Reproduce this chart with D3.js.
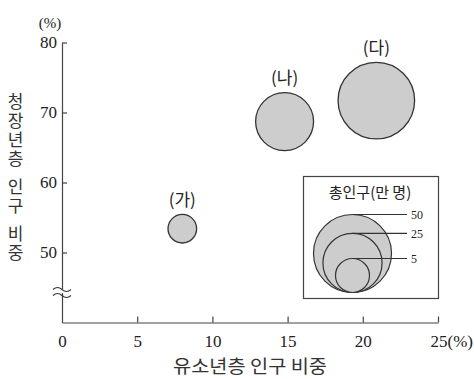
<!DOCTYPE html>
<html><head><meta charset="utf-8">
<script src="https://cdn.jsdelivr.net/npm/d3@7"></script>
<style>
html,body{margin:0;padding:0;background:#fff;}
svg{display:block;}
</style></head>
<body><div id="chart"></div>
<script>
// ---- data ----
const regions = ["(가)", "(나)", "(다)"];
const youthShare = [8.0, 14.8, 20.9];        // 유소년층 인구 비중 (%)
const workingShare = [53.4, 68.7, 71.7];     // 청장년층 인구 비중 (%)
const totalPop = [2.7, 23.7, 47.8];          // 총인구 (만 명)
const xTicks = [0, 5, 10, 15, 20, 25];
const yTicks = [50, 60, 70, 80];
const legendValues = [50, 25, 5];

const W = 474, H = 379;
const svg = d3.select("#chart").append("svg").attr("width", W).attr("height", H);

const x = d3.scaleLinear().domain([0, 25]).range([62, 438]);
const y = d3.scaleLinear().domain([40, 80]).range([322.5, 42.5]);
const r = d3.scalePow().exponent(0.5).domain([5, 50]).range([17, 39]);

const axisColor = "#444";
const serif = "'Liberation Serif','Times New Roman',serif";
const sans = "'Noto Sans CJK KR','Noto Sans',sans-serif";

// x axis
const xAxis = svg.append("g").attr("transform", `translate(0,${y(40)})`)
  .call(d3.axisBottom(x).tickValues(xTicks).tickSizeInner(-6).tickSizeOuter(0).tickPadding(12)
    .tickFormat(d => d === 25 ? "25(%)" : d));
xAxis.select(".domain").attr("stroke", axisColor).attr("stroke-width", 1.2);
xAxis.selectAll(".tick line").attr("stroke", axisColor).attr("stroke-width", 1.2);
xAxis.selectAll(".tick text").attr("font-family", serif).attr("font-size", 17).attr("fill", "#222")
  .attr("dy", "0.71em");
xAxis.selectAll(".tick").filter(d => d === 0).select("line").remove();
xAxis.selectAll(".tick").filter(d => d === 25).select("text").attr("text-anchor", "start").attr("dx", -8);

// y axis
const yAxis = svg.append("g").attr("transform", `translate(${x(0)},0)`)
  .call(d3.axisLeft(y).tickValues(yTicks).tickSizeInner(-5).tickSizeOuter(0).tickPadding(5));
yAxis.select(".domain").attr("stroke", axisColor).attr("stroke-width", 1.2);
yAxis.selectAll(".tick line").attr("stroke", axisColor).attr("stroke-width", 1.2);
yAxis.selectAll(".tick text").attr("font-family", serif).attr("font-size", 17).attr("fill", "#222");

// axis break symbol
const by = y(44.5), bx = x(0);
const wave = (yy) => `M${bx-9},${yy+1.5} q4.5,-4 9,0 t9,0`;
svg.append("rect").attr("x", bx - 2).attr("y", by - 2).attr("width", 4).attr("height", 4).attr("fill", "#fff");
svg.append("path").attr("d", wave(by - 3)).attr("fill", "none").attr("stroke", "#333").attr("stroke-width", 1.1);
svg.append("path").attr("d", wave(by + 3)).attr("fill", "none").attr("stroke", "#333").attr("stroke-width", 1.1);

// units
svg.append("text").attr("x", 50).attr("y", 28).attr("text-anchor", "middle")
  .attr("font-family", serif).attr("font-size", 15).attr("fill", "#222").text("(%)");

// axis titles
svg.append("text").attr("x", 250).attr("y", 373).attr("text-anchor", "middle")
  .attr("font-family", sans).attr("font-size", 18).attr("fill", "#333")
  .attr("textLength", 154).attr("lengthAdjust", "spacingAndGlyphs")
  .text("유소년층 인구 비중");

// vertical y title (upright stacked characters)
svg.append("text").attr("x", 15.5).attr("y", 93)
  .attr("font-family", sans).attr("font-size", 17).attr("fill", "#333")
  .style("writing-mode", "vertical-rl").style("text-orientation", "upright")
  .style("letter-spacing", "2px").style("word-spacing", "-10px")
  .text("청장년층 인구 비중");

// bubbles
const data = regions.map((name, i) => ({ name, x: youthShare[i], y: workingShare[i], p: totalPop[i] }));
const g = svg.append("g");
g.selectAll("circle").data(data).join("circle")
  .attr("cx", d => x(d.x)).attr("cy", d => y(d.y)).attr("r", d => r(d.p))
  .attr("fill", "#cdcdcd").attr("stroke", "#333").attr("stroke-width", 1.3);
g.selectAll("text").data(data).join("text")
  .attr("x", d => x(d.x)).attr("y", d => y(d.y) - r(d.p) - 14.5).attr("dy", "0.35em")
  .attr("text-anchor", "middle").attr("font-family", sans).attr("font-size", 17).attr("fill", "#222")
  .text(d => d.name);

// legend
const lg = svg.append("g");
lg.append("rect").attr("x", 303.5).attr("y", 176.5).attr("width", 135).attr("height", 122)
  .attr("fill", "#fff").attr("stroke", "#444").attr("stroke-width", 1.2);
lg.append("text").attr("x", 370).attr("y", 193).attr("dy", "0.35em").attr("text-anchor", "middle")
  .attr("font-family", sans).attr("font-size", 15).attr("fill", "#222").text("총인구(만 명)");
const lcx = 352.5, lbottom = 292.5;
lg.selectAll("circle").data(legendValues).join("circle")
  .attr("cx", lcx).attr("cy", d => lbottom - r(d)).attr("r", d => r(d))
  .attr("fill", "#cdcdcd").attr("stroke", "#333").attr("stroke-width", 1.2);
lg.selectAll("line").data(legendValues).join("line")
  .attr("x1", lcx).attr("x2", 407).attr("y1", d => lbottom - 2 * r(d)).attr("y2", d => lbottom - 2 * r(d))
  .attr("stroke", "#333").attr("stroke-width", 1.1);
lg.selectAll("text.lv").data(legendValues).join("text").attr("class", "lv")
  .attr("x", 411).attr("y", d => lbottom - 2 * r(d)).attr("dy", "0.35em")
  .attr("font-family", serif).attr("font-size", 12).attr("fill", "#222").text(d => d);
</script></body></html>
